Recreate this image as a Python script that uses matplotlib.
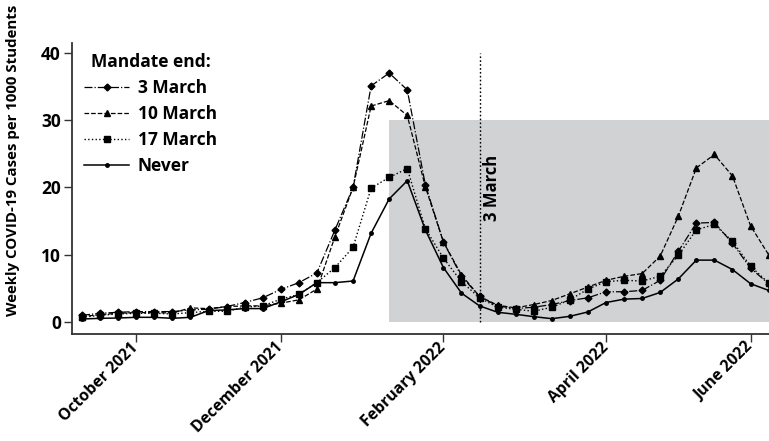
import numpy as np
import pandas as pd
import matplotlib
matplotlib.use("Agg")
import matplotlib.pyplot as plt

plt.rcParams['font.family'] = ['Open Sans', 'DejaVu Sans']
plt.rcParams['font.weight'] = 'bold'

# weekly points, one per week
week_start = pd.date_range("2021-09-30", periods=39, freq="7D")

march_3 = [1.0, 1.3, 1.45, 1.55, 1.55, 1.55, 1.8, 1.9, 2.3, 2.9, 3.6, 4.85, 5.85, 7.3, 13.7, 20.0,
           35.1, 37.0, 34.5, 20.4, 11.9, 6.8, 3.8, 2.4, 2.0, 2.2, 2.6, 3.2, 3.6, 4.5, 4.5, 4.7,
           6.2, 10.5, 14.7, 14.8, 11.7, 8.0, 5.7]
march_10 = [0.8, 1.1, 1.3, 1.4, 1.4, 1.35, 2.1, 2.0, 2.3, 2.4, 2.4, 2.8, 3.3, 4.9, 12.7, 20.0,
            32.1, 32.9, 30.7, 20.1, 11.9, 7.0, 3.8, 2.5, 2.1, 2.6, 3.2, 4.2, 5.2, 6.2, 6.8, 7.2,
            9.8, 15.7, 22.9, 24.9, 21.7, 14.3, 10.0]
march_17 = [0.7, 1.0, 1.2, 1.3, 1.3, 1.2, 1.4, 1.6, 1.6, 2.2, 2.4, 3.4, 4.1, 5.85, 8.1, 11.1,
            19.9, 21.5, 22.8, 13.9, 9.5, 6.0, 3.6, 2.2, 1.9, 1.6, 2.2, 3.3, 4.9, 6.0, 6.2, 6.1,
            6.8, 9.9, 13.7, 14.5, 12.0, 8.3, 5.8]
never = [0.45, 0.55, 0.6, 0.7, 0.7, 0.55, 0.7, 1.7, 1.8, 2.0, 2.0, 3.0, 4.1, 5.85, 5.85, 6.1,
         13.2, 18.3, 21.0, 13.7, 8.1, 4.3, 2.4, 1.45, 1.15, 0.8, 0.5, 0.85, 1.5, 2.9, 3.4, 3.5,
         4.4, 6.4, 9.2, 9.2, 7.8, 5.7, 4.7]

tick_weeks = [3, 11, 20, 29, 37]
tick_labels = ["October 2021", "December 2021", "February 2022", "April 2022", "June 2022"]
mandate_end = pd.Timestamp("2022-03-03")
shade_start = week_start[17]

fig = plt.figure(figsize=(7.69, 4.41), dpi=100)
ax = fig.add_axes([0.0936, 0.2426, 0.9064, 0.6604])

day = pd.Timedelta(days=1)
ax.set_xlim(week_start[0] - 3.9 * day, week_start[-1] + 0.15 * day)
ax.set_ylim(-1.78, 41.5)

ax.fill_between([shade_start, week_start[-1] + 7 * day], 0, 30, color="#d1d2d4", lw=0, zorder=0)
ax.plot([mandate_end, mandate_end], [0, 40], color="black", ls=(0, (1.2, 1.6)), lw=1, zorder=1)
ax.text(mandate_end + 5 * day, 20, "3 March", rotation=90, ha="center", va="center",
        fontsize=12, fontweight="bold")

ax.plot(week_start, march_3, color="black", ls="-.", lw=0.9, marker="D", ms=3.5,
        label="3 March", zorder=3)
ax.plot(week_start, march_10, color="black", ls="--", lw=0.9, marker="^", ms=4.5,
        label="10 March", zorder=3)
ax.plot(week_start, march_17, color="black", ls=":", lw=1.0, marker="s", ms=4.5,
        label="17 March", zorder=3)
ax.plot(week_start, never, color="black", ls="-", lw=1.1, marker="o", ms=2.5,
        label="Never", zorder=3)

ax.set_yticks([0, 10, 20, 30, 40])
ax.set_xticks(week_start[tick_weeks])
ax.set_xticklabels(tick_labels, rotation=45, ha="right", va="center", rotation_mode="anchor")
ax.tick_params(axis="both", length=6, width=1, color="#333333")
ax.tick_params(axis="y", labelsize=12.5, pad=2)
ax.tick_params(axis="x", labelsize=11.3, pad=2)
ax.set_ylabel("Weekly COVID-19 Cases per 1000 Students", fontsize=10.8, fontweight="bold")
ax.yaxis.set_label_coords(-0.074, 0.597)

for side in ["top", "right"]:
    ax.spines[side].set_visible(False)
for side in ["left", "bottom"]:
    ax.spines[side].set_linewidth(1.3)
    ax.spines[side].set_color("#333333")

leg = ax.legend(title="Mandate end:", loc="upper left", bbox_to_anchor=(0.0, 1.005),
                frameon=False, fontsize=12.5, title_fontsize=12.5, handlelength=2.6,
                labelspacing=0.45, handletextpad=0.5, borderaxespad=0.3)
leg.get_title().set_fontweight("bold")

fig.savefig("out.png", dpi=100)
